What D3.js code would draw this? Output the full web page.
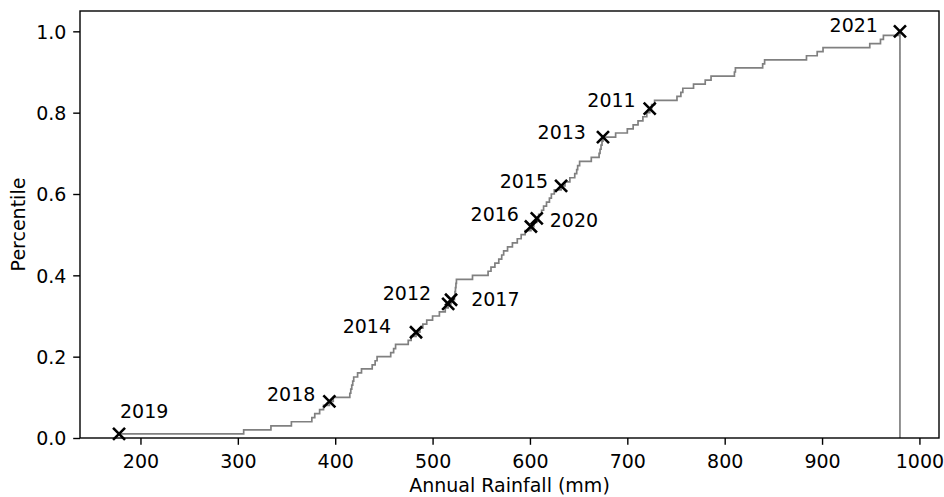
<!DOCTYPE html>
<html>
<head>
<meta charset="utf-8">
<script src="https://cdn.jsdelivr.net/npm/d3@7"></script>
<style>
  body { margin: 0; background: #fff; }
  svg { display: block; }
  text { font-family: "DejaVu Sans", sans-serif; fill: #000; }
</style>
</head>
<body>
<svg id="chart" width="944" height="497"></svg>
<script>
// Recent years that are marked on the curve, with their annual rainfall (mm)
const highlightYears    = [2011, 2012, 2013, 2014, 2015, 2016, 2017, 2018, 2019, 2020, 2021];
const highlightRainfall = [723,  519,  675,  483,  632,  601,  516,  394,  178,  607,  980];

// Annual rainfall (mm) of every other year in the record
const otherRainfall = [
  306, 334, 355, 376, 379, 384, 388,
  398, 415, 416, 417, 418, 419, 423, 427, 438, 441, 443, 457, 460, 462, 475, 478,
  487, 490, 494, 500, 507, 513,
  522.5, 523, 523.5, 524, 524.5, 541, 557, 560, 564, 568, 571, 573, 577, 582, 587, 591, 595,
  604,
  609, 612, 614, 617, 620, 622, 625,
  636, 641, 646, 648, 649, 651, 663, 671, 672, 673, 674,
  688, 700, 706, 711, 716, 720,
  725, 728, 751, 755, 757, 768, 780, 786, 810, 811, 839, 841, 884, 895, 901, 949, 960, 963
];

const xTickValues = [200, 300, 400, 500, 600, 700, 800, 900, 1000];
const yTickValues = [0.0, 0.2, 0.4, 0.6, 0.8, 1.0];

const xTitle = "Annual Rainfall (mm)";
const yTitle = "Percentile";

// Where each year's label sits relative to its marker
const labelPlacement = {
  2011: { anchor: "end",   dx: -14, dy: -8 },
  2012: { anchor: "end",   dx: -20, dy: -7 },
  2013: { anchor: "end",   dx: -17, dy: -5 },
  2014: { anchor: "end",   dx: -25, dy: -6 },
  2015: { anchor: "end",   dx: -13, dy: -5 },
  2016: { anchor: "end",   dx: -12, dy: -12 },
  2017: { anchor: "start", dx: 23,  dy: -5 },
  2018: { anchor: "end",   dx: -14, dy: -7 },
  2019: { anchor: "start", dx: 1,   dy: -23 },
  2020: { anchor: "start", dx: 13,  dy: 2 },
  2021: { anchor: "end",   dx: -22, dy: -6 }
};

const fontSize = 19;
const plot = { left: 80, right: 939, top: 11, bottom: 438 };

// Empirical CDF of all years
const allRainfall = otherRainfall.concat(highlightRainfall).sort(d3.ascending);
const n = allRainfall.length;
const ecdf = allRainfall.map((v, i) => ({ x: v, p: (i + 1) / n }));

const xMin = d3.min(allRainfall), xMax = d3.max(allRainfall);
const pad = (xMax - xMin) * 0.05;

const x = d3.scaleLinear().domain([xMin - pad, xMax + pad]).range([plot.left, plot.right]);
const y = d3.scaleLinear().domain([0, 1.05]).range([plot.bottom, plot.top]);

const svg = d3.select("#chart");

// Step curve, closed down to the axis at the wettest year
const stepPoints = ecdf.concat([{ x: xMax, p: 0 }]);
const stepLine = d3.line().x(d => x(d.x)).y(d => y(d.p)).curve(d3.curveStepAfter);

svg.append("path")
  .attr("d", stepLine(stepPoints))
  .attr("fill", "none")
  .attr("stroke", "#808080")
  .attr("stroke-width", 1.7);

// Axes
const xAxis = d3.axisBottom(x).tickValues(xTickValues).tickFormat(d3.format("d"))
  .tickSize(6.8).tickPadding(6.8);
const yAxis = d3.axisLeft(y).tickValues(yTickValues).tickFormat(d3.format(".1f"))
  .tickSize(6.8).tickPadding(6.8);

const gx = svg.append("g").attr("transform", `translate(0,${plot.bottom})`).call(xAxis);
const gy = svg.append("g").attr("transform", `translate(${plot.left},0)`).call(yAxis);

[gx, gy].forEach(g => {
  g.select(".domain").remove();
  g.selectAll(".tick line").attr("stroke", "#000").attr("stroke-width", 1.4);
  g.selectAll(".tick text").attr("font-size", fontSize).attr("font-family", "DejaVu Sans").attr("fill", "#000");
});
gx.selectAll(".tick text").attr("dy", null).attr("y", 29.5);
gy.selectAll(".tick text").attr("dy", "0.36em");

// Frame
svg.append("rect")
  .attr("x", plot.left).attr("y", plot.top)
  .attr("width", plot.right - plot.left).attr("height", plot.bottom - plot.top)
  .attr("fill", "none").attr("stroke", "#000").attr("stroke-width", 1.4);

// Axis titles
svg.append("text")
  .attr("x", (plot.left + plot.right) / 2).attr("y", 492)
  .attr("text-anchor", "middle").attr("font-size", fontSize)
  .text(xTitle);

svg.append("text")
  .attr("transform", `translate(25,${(plot.top + plot.bottom) / 2}) rotate(-90)`)
  .attr("text-anchor", "middle").attr("font-size", fontSize)
  .text(yTitle);

// Highlighted years
const marks = highlightYears.map((yr, i) => {
  const v = highlightRainfall[i];
  return { year: yr, x: v, p: d3.bisectRight(allRainfall, v) / n };
});

const m = 6;
const markG = svg.append("g");
marks.forEach(d => {
  const cx = x(d.x), cy = y(d.p);
  markG.append("path")
    .attr("d", `M${cx - m},${cy - m}L${cx + m},${cy + m}M${cx - m},${cy + m}L${cx + m},${cy - m}`)
    .attr("stroke", "#000").attr("stroke-width", 2.6).attr("fill", "none");
  const lp = labelPlacement[d.year];
  markG.append("text")
    .attr("x", cx + lp.dx).attr("y", cy + lp.dy)
    .attr("dy", "0.36em")
    .attr("text-anchor", lp.anchor)
    .attr("font-size", fontSize)
    .text(d.year);
});
</script>
</body>
</html>
